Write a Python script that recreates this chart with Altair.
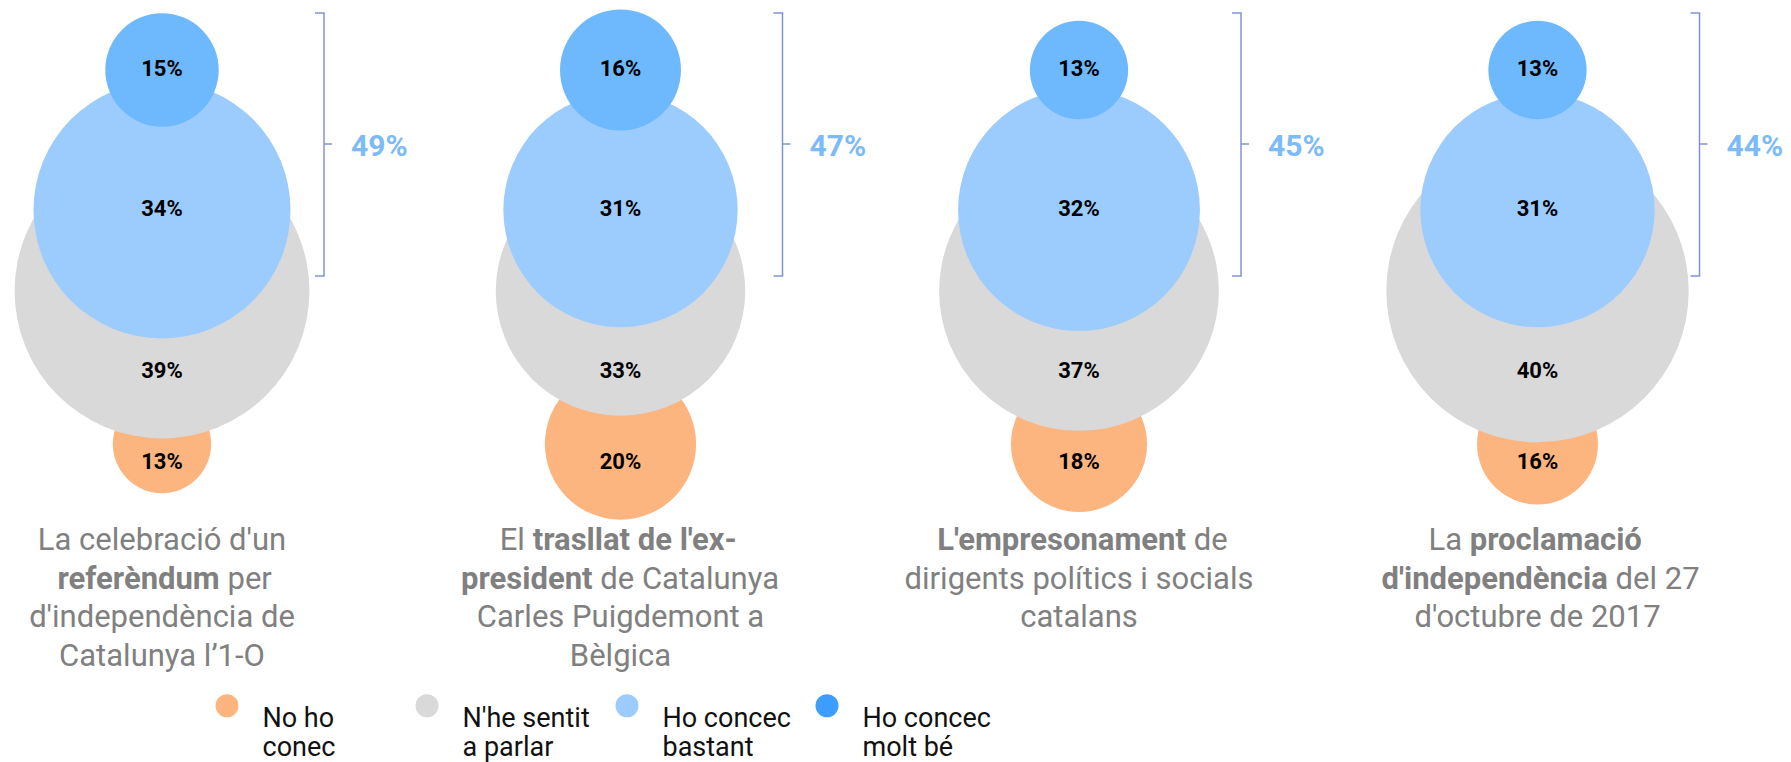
import altair as alt
import pandas as pd

# ---------------------------------------------------------------- data
CATEGORIES = ["No ho conec", "N'he sentit a parlar", "Ho concec bastant", "Ho concec molt bé"]
NO_HO_CONEC = [13, 20, 18, 16]
NHE_SENTIT_A_PARLAR = [39, 33, 37, 40]
HO_CONCEC_BASTANT = [34, 31, 32, 31]
HO_CONCEC_MOLT_BE = [15, 16, 13, 13]
SERIES = [NO_HO_CONEC, NHE_SENTIT_A_PARLAR, HO_CONCEC_BASTANT, HO_CONCEC_MOLT_BE]

# each title line is a list of (text, bold) segments
TITLES = [
    [[("La celebració d'un", False)],
     [("referèndum", True), ("per", False)],
     [("d'independència de", False)],
     [("Catalunya l’1-O", False)]],
    [[("El", False), ("trasllat de l'ex-", True)],
     [("president", True), ("de Catalunya", False)],
     [("Carles Puigdemont a", False)],
     [("Bèlgica", False)]],
    [[("L'empresonament", True), ("de", False)],
     [("dirigents polítics i socials", False)],
     [("catalans", False)]],
    [[("La", False), ("proclamació", True)],
     [("d'independència", True), ("del 27", False)],
     [("d'octubre de 2017", False)]],
]

# ---------------------------------------------------------------- layout
W, H = 1791, 762
PANEL_X0, PANEL_STEP = 162, 458.5
CIRCLE_Y = {CATEGORIES[0]: 444, CATEGORIES[1]: 291, CATEGORIES[2]: 210, CATEGORIES[3]: 70}
LABEL_Y = {CATEGORIES[0]: 462, CATEGORIES[1]: 371, CATEGORIES[2]: 209, CATEGORIES[3]: 69}
RADIUS_PER_POINT = 3.78
SIZE_MAX_VALUE = 40
BRACKET_DX = 162
BRACKET_TOP, BRACKET_MID, BRACKET_BOTTOM = 13, 144, 276
TITLE_BASELINE0, TITLE_LINE_H = 550, 38.7
# where the bold / regular boundary falls on mixed lines (offset from line centre)
TITLE_SPLIT = {(0, 1): 61.6, (1, 0): -91.7, (1, 1): -24.1,
               (2, 0): 110.8, (3, 0): -71.6, (3, 1): 74.2}
HALF_SPACE = 3.9

CIRCLE_COLORS = ["#FDB580", "#D9D9D9", "#9CCCFD", "#6EB8FE"]
LEGEND_COLORS = ["#FDB580", "#D9D9D9", "#9CCCFD", "#3D9EFF"]
BRACKET_COLOR = "#8095D5"
TOTAL_COLOR = "#7DBBF8"
TITLE_COLOR = "#808080"
FONT = "Roboto"

# ---------------------------------------------------------------- tables
rows = []
for p in range(4):
    for k, (cat, series) in enumerate(zip(CATEGORIES, SERIES)):
        rows.append({
            "panel": p, "cat": cat, "value": series[p], "order": k,
            "cx": PANEL_X0 + p * PANEL_STEP,
            "cy": CIRCLE_Y[cat], "ly": LABEL_Y[cat],
        })
circles = pd.DataFrame(rows)

segs = []
for p, lines in enumerate(TITLES):
    cx = PANEL_X0 + p * PANEL_STEP
    for li, parts in enumerate(lines):
        ty = TITLE_BASELINE0 + li * TITLE_LINE_H
        if len(parts) == 1:
            segs.append({"text": parts[0][0], "bold": parts[0][1], "anchor": "center", "tx": cx, "ty": ty})
        else:
            split = cx + TITLE_SPLIT[(p, li)]
            (t1, b1), (t2, b2) = parts
            segs.append({"text": t1, "bold": b1, "anchor": "right", "tx": split - HALF_SPACE, "ty": ty})
            segs.append({"text": t2, "bold": b2, "anchor": "left", "tx": split + HALF_SPACE, "ty": ty})
titles = pd.DataFrame(segs)

XS = alt.Scale(domain=[0, W], range=[0, W], nice=False, zero=False)
YS = alt.Scale(domain=[0, H], range=[0, H], nice=False, zero=False)
size_max = (2 * RADIUS_PER_POINT * SIZE_MAX_VALUE) ** 2

base = alt.Chart(circles)

bubbles = base.mark_circle(opacity=1).encode(
    x=alt.X("cx:Q", scale=XS, axis=None),
    y=alt.Y("cy:Q", scale=YS, axis=None),
    size=alt.Size("value:Q", scale=alt.Scale(type="pow", exponent=2, domain=[0, SIZE_MAX_VALUE],
                                             range=[0, size_max]), legend=None),
    color=alt.Color("cat:N", scale=alt.Scale(domain=CATEGORIES, range=CIRCLE_COLORS), legend=None),
    order=alt.Order("order:Q"),
)

values = base.transform_calculate(label="datum.value + '%'").mark_text(
    font=FONT, fontSize=22, fontWeight="bold", color="#000000", baseline="middle", align="center"
).encode(
    x=alt.X("cx:Q", scale=XS, axis=None),
    y=alt.Y("ly:Q", scale=YS, axis=None),
    text="label:N",
)

per_panel = base.transform_aggregate(groupby=["panel", "cx"])
vline = per_panel.mark_rule(color=BRACKET_COLOR, strokeWidth=1.5, xOffset=BRACKET_DX).encode(
    x=alt.X("cx:Q", scale=XS, axis=None), y=alt.value(BRACKET_TOP), y2=alt.value(BRACKET_BOTTOM))
serif_top = per_panel.mark_rule(color=BRACKET_COLOR, strokeWidth=1.5,
                                xOffset=BRACKET_DX - 9, x2Offset=BRACKET_DX + 0.75).encode(
    x=alt.X("cx:Q", scale=XS, axis=None), x2="cx:Q", y=alt.value(BRACKET_TOP))
serif_bottom = per_panel.mark_rule(color=BRACKET_COLOR, strokeWidth=1.5,
                                   xOffset=BRACKET_DX - 9, x2Offset=BRACKET_DX + 0.75).encode(
    x=alt.X("cx:Q", scale=XS, axis=None), x2="cx:Q", y=alt.value(BRACKET_BOTTOM))
tick = per_panel.mark_rule(color=BRACKET_COLOR, strokeWidth=1.5,
                           xOffset=BRACKET_DX, x2Offset=BRACKET_DX + 8).encode(
    x=alt.X("cx:Q", scale=XS, axis=None), x2="cx:Q", y=alt.value(BRACKET_MID))

totals = base.transform_filter(
    alt.FieldOneOfPredicate(field="cat", oneOf=CATEGORIES[2:])
).transform_aggregate(total="sum(value)", groupby=["panel", "cx"]).transform_calculate(
    label="datum.total + '%'"
).mark_text(font=FONT, fontSize=30, fontWeight="bold", color=TOTAL_COLOR, align="left",
            baseline="middle", dx=BRACKET_DX + 27).encode(
    x=alt.X("cx:Q", scale=XS, axis=None), y=alt.value(146.5), text="label:N")

title_layers = []
for bold in (False, True):
    for anchor in ("center", "left", "right"):
        sub = titles[(titles["bold"] == bold) & (titles["anchor"] == anchor)]
        if sub.empty:
            continue
        title_layers.append(
            alt.Chart(sub).mark_text(font=FONT, fontSize=31, fontWeight="bold" if bold else "normal",
                                     color=TITLE_COLOR, align=anchor, baseline="alphabetic").encode(
                x=alt.X("tx:Q", scale=XS, axis=None),
                y=alt.Y("ty:Q", scale=YS, axis=None),
                text="text:N",
            )
        )

legend_keys = alt.Chart(pd.DataFrame({"cat": CATEGORIES})).mark_circle(opacity=0).encode(
    color=alt.Color("cat:N", scale=alt.Scale(domain=CATEGORIES, range=LEGEND_COLORS),
                    legend=alt.Legend(
                        title=None, orient="none", legendX=213.5, legendY=692,
                        direction="horizontal", columns=4, gridAlign="all", columnPadding=22,
                        symbolType="circle", symbolSize=529, symbolOpacity=1, symbolStrokeWidth=0,
                        labelFont=FONT, labelFontSize=27, labelColor="#111111", labelOffset=22,
                        labelLimit=400, labelBaseline="top", padding=0,
                        labelExpr="[join(slice(split(datum.label, ' '), 0, 2), ' '), "
                                  "join(slice(split(datum.label, ' '), 2), ' ')]",
                    ))
)

chart = alt.layer(
    bubbles, values, vline, serif_top, serif_bottom, tick, totals, *title_layers, legend_keys
).resolve_scale(color="independent").properties(
    width=W, height=H, padding=0, autosize=alt.AutoSizeParams(type="none"), background="white"
).configure_view(stroke=None)

chart.save("out.html", embed_options={"renderer": "svg", "actions": False})
